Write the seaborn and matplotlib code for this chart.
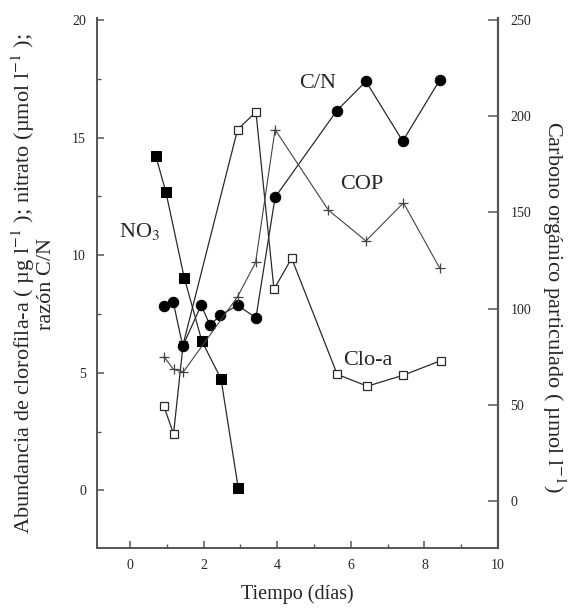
import matplotlib
matplotlib.use("Agg")
import matplotlib.pyplot as plt
from matplotlib.ticker import MultipleLocator
import seaborn as sns

# Nitrato (umol l-1), eje izquierdo
no3_t = [0.70, 0.97, 1.47, 1.95, 2.47, 2.94]
no3 = [14.2, 12.7, 9.05, 6.35, 4.74, 0.09]

# Razon C/N, eje izquierdo
cn_t = [0.92, 1.17, 1.43, 1.93, 2.17, 2.45, 2.92, 3.42, 3.94, 5.62, 6.41, 7.41, 8.42]
cn = [7.84, 8.03, 6.13, 7.87, 7.03, 7.44, 7.87, 7.34, 12.46, 16.15, 17.39, 14.85, 17.46]

# Clorofila-a (ug l-1), eje izquierdo
clo_t = [0.92, 1.18, 1.44, 2.92, 3.42, 3.91, 4.39, 5.63, 6.45, 7.43, 8.45]
clo = [3.57, 2.40, 6.2, 15.34, 16.09, 8.55, 9.87, 4.93, 4.43, 4.90, 5.52]

# Carbono organico particulado (umol l-1), eje derecho
cop_t = [0.92, 1.18, 1.45, 2.92, 3.41, 3.94, 5.39, 6.41, 7.43, 8.42]
cop = [75.0, 68.4, 67.2, 106.2, 124.0, 193.1, 151.2, 135.2, 155.0, 120.9]

x_ticks = [0, 2, 4, 6, 8, 10]
left_ticks = [0, 5, 10, 15, 20]
right_ticks = [0, 50, 100, 150, 200, 250]

sns.set_style("ticks")
plt.rcParams['font.family'] = ['Liberation Serif', 'DejaVu Serif']
plt.rcParams['mathtext.fontset'] = 'stix'

fig = plt.figure(figsize=(5.68, 6.09), dpi=100)
ax = fig.add_axes([0.1708, 0.1002, 0.706, 0.870])
ax2 = ax.twinx()

lc = '#2a2a2a'
kw = dict(color=lc, linewidth=0.9, sort=False, legend=False)

# clorofila primero: el punto de 1.4 dias queda tapado por el circulo C/N
sns.lineplot(x=clo_t, y=clo, marker='s', markersize=6, markerfacecolor='white',
             markeredgecolor=lc, markeredgewidth=0.9, ax=ax, **kw)
sns.lineplot(x=no3_t, y=no3, marker='s', markersize=7, markerfacecolor='k',
             markeredgecolor='k', ax=ax, **kw)
sns.lineplot(x=cn_t, y=cn, marker='o', markersize=7.5, markerfacecolor='k',
             markeredgecolor='k', ax=ax, **kw)
sns.lineplot(x=cop_t, y=cop, marker='+', markersize=7, markeredgecolor='#444444',
             markeredgewidth=0.9, ax=ax2, color='#444444', linewidth=0.8,
             sort=False, legend=False)

ax.set_xlim(-0.9, 10)
ax.set_ylim(-2.45, 20.08)
ax2.set_ylim(-24.4, 251)

ax.set_xticks(x_ticks)
ax.xaxis.set_minor_locator(MultipleLocator(1))
ax.set_yticks(left_ticks)
ax.yaxis.set_minor_locator(MultipleLocator(2.5))
ax2.set_yticks(right_ticks)

spc = '#555555'
for s in ['top', 'right']:
    ax.spines[s].set_visible(False)
for s in ['top', 'left', 'bottom']:
    ax2.spines[s].set_visible(False)
for s in ['left', 'bottom']:
    ax.spines[s].set_color(spc)
    ax.spines[s].set_linewidth(1.4)
ax2.spines['right'].set_color(spc)
ax2.spines['right'].set_linewidth(1.6)

ax.tick_params(axis='both', which='major', direction='in', length=5, width=1.1,
               color=spc, labelsize=10, pad=8, right=False, top=False)
ax.tick_params(axis='both', which='minor', direction='in', length=3, width=1.0,
               color=spc, right=False, top=False)
ax2.tick_params(axis='y', which='major', direction='in', length=7, width=1.1,
                color=spc, labelsize=10, pad=9, left=False)

ax.set_xlabel('Tiempo (días)', fontsize=14.5, labelpad=9)
ax.set_ylabel('Abundancia de clorofila-a ( µg l$^{-1}$ ); nitrato (µmol l$^{-1}$ );\nrazón C/N',
              fontsize=16, linespacing=1.0, va='center')
ax.yaxis.set_label_coords(-0.16, 0.498)
ax2.set_ylabel('Carbono orgánico particulado ( µmol l$^{-1}$)', fontsize=16,
               rotation=270, va='center')
ax2.yaxis.set_label_coords(1.14, 0.455)

ax.text(0.27, 11.02, 'NO$_3$', fontsize=16, ha='center', va='center')
ax.text(5.11, 17.29, 'C/N', fontsize=16, ha='center', va='center')
ax.text(6.30, 12.99, 'COP', fontsize=16, ha='center', va='center')
ax.text(6.47, 5.52, 'Clo-a', fontsize=16, ha='center', va='center')

fig.savefig('out.png', dpi=100)
